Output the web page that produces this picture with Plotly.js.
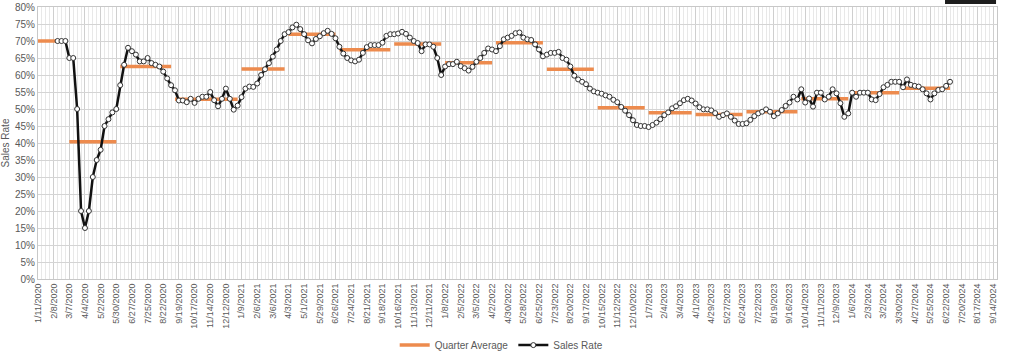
<!DOCTYPE html>
<html>
<head>
<meta charset="utf-8">
<script src="https://cdn.plot.ly/plotly-3.0.1.min.js"></script>
<style>
  html, body { margin: 0; padding: 0; background: #fff; }
  #chart { width: 1024px; height: 359px; }
</style>
</head>
<body>
<div id="chart"></div>
<script>
// Weekly sales rate (%), one value per week starting with the week ending 2/15/2020
var firstWeek = '2020-02-15';
var salesRate = [
  70, 70, 70, 65, 65, 50, 20, 15, 20, 30, 35, 38, 45, 47, 49, 50, 57, 63, 68, 67,
  66, 64, 64, 65, 63.5, 63, 62.5, 61, 59, 57, 55.5, 52.5, 52.5, 52, 53, 51.8, 53, 53.6, 53.6, 55,
  52.6, 50.8, 53, 56, 53, 49.8, 51, 53.5, 56,
  56.6, 56.5, 57.5, 60, 61.7, 63.5, 65.4, 67.5, 70, 72, 72.6, 74, 74.8, 73.5, 72, 70.2,
  69.3, 70.6, 71.4, 72.3, 73, 72.1, 70.8, 68.3, 66.3, 65, 64.3, 64, 64.5, 66.5, 68.2, 68.8,
  68.8, 68.8, 69.5, 71.5, 72, 72, 72.2, 72.7, 72.1, 71, 70, 69.4, 67, 69, 69, 68.3,
  65, 60, 62.5, 63.2, 63.2, 63.9, 62.6, 62, 61.3, 62.4, 63.9,
  65, 66.5, 67.8, 67.5, 67, 68.5, 70.5, 71, 71.5, 72.3, 72.5, 71, 70.5, 70.3, 69, 67.5,
  65.5, 66, 66.5, 66.5, 66.8, 65, 64.5, 62.5, 59.8, 58.7, 58, 57.3, 56, 55.2, 54.8, 54.5,
  54, 53.6, 52.7, 52, 50.6, 49.5, 48.2, 46.7, 45.3, 45, 45, 44.7, 45.3, 46, 47, 48.2,
  49, 50.2, 50.8, 51.7, 52.6, 53, 52.5, 51.6, 50.5, 49.9, 49.9, 49.6, 48.8,
  47.7, 48.2, 48.7, 47.7, 46.6, 45.6, 45.6, 45.8, 46.8, 47.9, 48.7, 49.2, 49.9, 49.2, 47.9,
  48.7, 49.7, 50.9, 51.9, 53.6, 52.8, 55.8, 51.9, 53.1, 50.7, 54.8, 54.8, 52.8, 53.6, 55.8,
  54.6, 51.7, 47.7, 48.7, 54.8, 53.6, 54.8, 54.8, 54.8, 52.8, 52.6, 54.4, 56.4, 57.1, 58,
  58, 58, 56.4, 58.7, 57.1, 56.8, 56.6, 55.8, 54.6, 52.8, 54.6, 55.6, 55.8, 56.8, 58
];

// Quarter averages (%), each drawn from its first to its last week
var quarterStart = ['2020-01-11','2020-03-07','2020-06-06','2020-09-12','2021-01-09','2021-04-03',
  '2021-07-03','2021-10-09','2022-01-08','2022-04-09','2022-07-09','2022-10-08','2023-01-07',
  '2023-04-01','2023-07-01','2023-10-07','2024-01-06','2024-04-06'];
var quarterEnd = ['2020-02-29','2020-05-30','2020-09-05','2021-01-02','2021-03-27','2021-06-26',
  '2021-10-02','2022-01-01','2022-04-02','2022-07-02','2022-10-01','2022-12-31','2023-03-25',
  '2023-06-24','2023-09-30','2023-12-30','2024-03-30','2024-06-29'];
var quarterAvg = [70, 40.4, 62.5, 52.9, 61.8, 72, 67.4, 69.1, 63.6, 69.5, 61.7, 50.4, 48.9,
  48.4, 49.2, 53, 54.8, 56.1];

// Axis settings
var axisStart = '2020-01-11';
var axisEnd = '2024-09-21';
var yTicks = [0,5,10,15,20,25,30,35,40,45,50,55,60,65,70,75,80];

var DAY = 86400000;
var t0 = Date.parse(firstWeek + 'T00:00:00Z');
var weeks = salesRate.map(function (v, i) {
  return new Date(t0 + i * 7 * DAY).toISOString().slice(0, 10);
});

var qx = [], qy = [];
for (var i = 0; i < quarterAvg.length; i++) {
  qx.push(quarterStart[i], quarterEnd[i], null);
  qy.push(quarterAvg[i], quarterAvg[i], null);
}

var txt = '#595959';
var font = 'Liberation Sans, Arial, sans-serif';

var traces = [
  {
    x: qx, y: qy, type: 'scatter', mode: 'lines', name: 'Quarter Average',
    line: { color: '#ED8B4E', width: 3.5 }, connectgaps: false, hoverinfo: 'skip'
  },
  {
    x: weeks, y: salesRate, type: 'scatter', mode: 'lines+markers', name: 'Sales Rate',
    line: { color: '#111111', width: 2.5 },
    marker: { symbol: 'circle', size: 5, color: '#ffffff', line: { color: '#333333', width: 1 } }
  }
];

var layout = {
  width: 1024, height: 359,
  margin: { l: 38, r: 27, t: 7, b: 80, autoexpand: false },
  paper_bgcolor: '#ffffff', plot_bgcolor: '#ffffff',
  font: { family: font, color: txt, size: 10 },
  showlegend: true,
  legend: {
    orientation: 'h', x: 0.483, xanchor: 'center', y: -0.243, yanchor: 'middle',
    font: { family: font, size: 10, color: txt }, itemwidth: 30, tracegroupgap: 0
  },
  xaxis: {
    type: 'date',
    range: [axisStart, axisEnd],
    tick0: axisStart, dtick: 28 * DAY,
    tickformat: '%-m/%-d/%Y', tickangle: -90,
    tickfont: { family: font, size: 9, color: txt },
    showgrid: true, gridcolor: '#cfcfcf', gridwidth: 1,
    minor: { tick0: axisStart, dtick: 7 * DAY, showgrid: true, gridcolor: '#e8e8e8', gridwidth: 1 },
    showline: true, linecolor: '#c8c8c8', linewidth: 1, mirror: true,
    ticks: '', zeroline: false, automargin: false
  },
  yaxis: {
    range: [0, 80], tickmode: 'array', tickvals: yTicks,
    ticktext: yTicks.map(function (v) { return v + '%'; }),
    tickfont: { family: font, size: 10, color: txt },
    showgrid: true, gridcolor: '#d4d4d4', gridwidth: 1,
    showline: true, linecolor: '#c8c8c8', linewidth: 1, mirror: true,
    ticks: '', zeroline: false, automargin: false,
    title: { text: 'Sales Rate', font: { family: font, size: 10, color: txt }, standoff: 4 }
  },
  shapes: [{
    type: 'rect', xref: 'paper', yref: 'paper',
    x0: 0.9458, x1: 0.999, y0: 1.011, y1: 1.04,
    fillcolor: '#1e1e1e', line: { width: 0 }, layer: 'above'
  }]
};

Plotly.newPlot('chart', traces, layout, { displayModeBar: false, staticPlot: true });
</script>
</body>
</html>
